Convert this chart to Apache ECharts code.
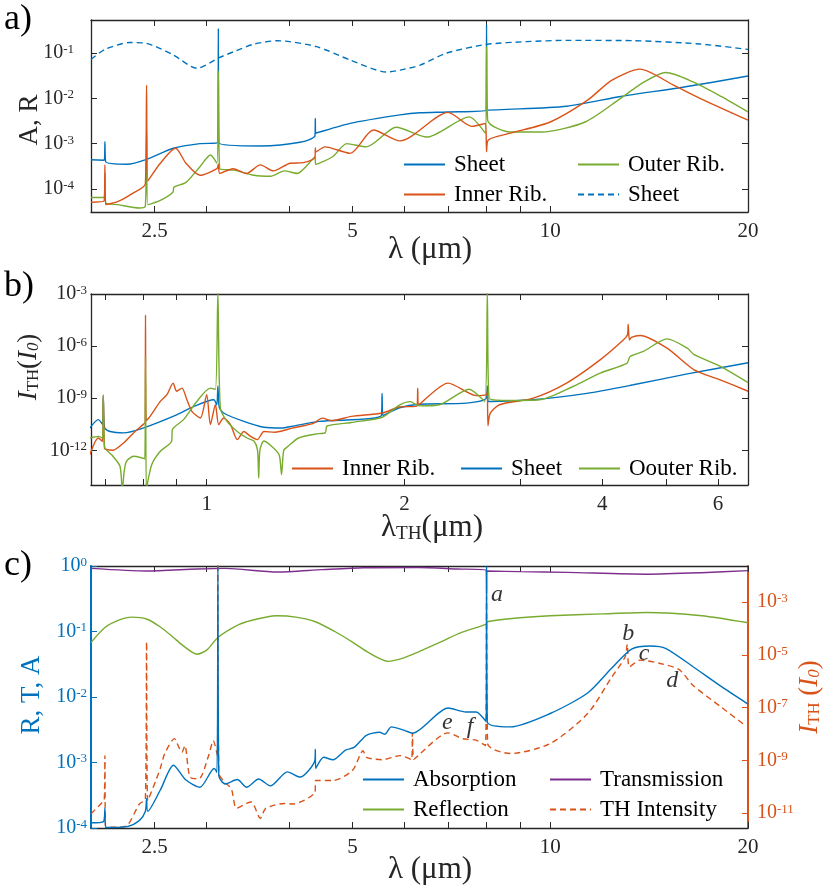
<!DOCTYPE html>
<html lang="en">
<head>
    <meta charset="UTF-8">
    <title>Sheet / Rib spectra and TH intensity</title>
    <script src="https://cdn.jsdelivr.net/npm/echarts@6.0.0/dist/echarts.min.js"></script>
    <style>
        html, body { margin: 0; padding: 0; background: #fff; }
        #main { width: 831px; height: 895px; }
    </style>
</head>
<body>
<div id="main"></div>
<script>
// ---------- panel a: absorption / reflection vs wavelength (um) ----------
var lamSheetA = [2.0, 2.095, 2.1, 2.105, 2.27, 2.43, 2.67, 2.93, 3.12, 3.125, 3.13, 3.62, 4.16, 4.385, 4.39, 4.395, 4.96, 5.91, 6.34, 6.97, 7.99, 8.0, 8.01, 10.6, 12.8, 15.9, 20];
var sheetA    = [4.4e-4, 4.3e-4, 1.1e-3, 4.0e-4, 3.5e-4, 4.5e-4, 7.9e-4, 1.0e-3, 1.05e-3, 0.35, 1.05e-3, 8.9e-4, 1.07e-3, 1.5e-3, 3.6e-3, 1.7e-3, 2.8e-3, 4.3e-3, 4.8e-3, 5.0e-3, 5.5e-3, 0.42, 5.5e-3, 6.7e-3, 0.011, 0.0175, 0.031];

var lamInnerA = [2.0, 2.095, 2.1, 2.105, 2.2, 2.31, 2.42, 2.43, 2.44, 2.55, 2.69, 2.79, 2.93, 3.11, 3.125, 3.14, 3.29, 3.45, 3.62, 3.79, 4.02, 4.21, 4.385, 4.39, 4.395, 4.54, 4.96, 5.38, 5.91, 6.99, 7.6, 7.97, 8.0, 8.05, 8.7, 10, 11.4, 12.4, 13.7, 15.4, 16.9, 20];
var innerA    = [5.1e-5, 5.5e-5, 3.4e-4, 4.5e-5, 5.3e-5, 7.9e-5, 1.3e-4, 0.0196, 1.5e-4, 3.7e-4, 7.9e-4, 3.7e-4, 2.0e-4, 2.8e-4, 3.5e-4, 2.2e-4, 2.8e-4, 2.2e-4, 3.4e-4, 2.5e-4, 3.7e-4, 3.8e-4, 5.0e-4, 8.0e-4, 6.5e-4, 8.5e-4, 6.1e-4, 2.0e-3, 1.15e-3, 4.9e-3, 2.4e-3, 2.8e-3, 6.6e-4, 1.2e-3, 1.7e-3, 3.0e-3, 9.1e-3, 0.025, 0.044, 0.0196, 0.01, 3.3e-3];

var lamOuterA = [2.0, 2.095, 2.1, 2.105, 2.2, 2.37, 2.42, 2.43, 2.44, 2.55, 2.665, 2.675, 2.79, 2.93, 3.04, 3.11, 3.125, 3.14, 3.3, 3.54, 3.75, 3.94, 4.12, 4.385, 4.395, 4.67, 4.9, 5.25, 5.83, 6.49, 7.53, 7.97, 8.0, 8.03, 8.7, 9.7, 11.3, 12.8, 13.9, 15.0, 16.5, 18.2, 20];
var outerA    = [6.5e-5, 6.5e-5, 2.2e-4, 5.0e-5, 4.5e-5, 3.8e-5, 4.2e-5, 2.0e-3, 4.5e-5, 5.6e-5, 8.5e-5, 1.1e-4, 1.4e-4, 3.1e-4, 5.6e-4, 3.7e-4, 0.04, 2.8e-4, 2.6e-4, 2.0e-4, 1.9e-4, 2.5e-4, 2.2e-4, 5.0e-4, 3.5e-4, 5.2e-4, 1.0e-3, 8.5e-4, 2.3e-3, 1.4e-3, 3.9e-3, 1.7e-3, 0.14, 3.3e-3, 1.8e-3, 1.8e-3, 3.0e-3, 0.01, 0.023, 0.037, 0.023, 0.011, 5.0e-3];

var lamSheetR = [2.0, 2.1, 2.29, 2.43, 2.67, 2.9, 3.14, 3.3, 3.53, 3.84, 4.41, 4.96, 5.64, 5.91, 6.34, 6.96, 8.0, 9.2, 10.6, 13.4, 16.9, 20];
var sheetR    = [0.072, 0.12, 0.17, 0.163, 0.09, 0.046, 0.08, 0.107, 0.155, 0.187, 0.138, 0.07, 0.038, 0.042, 0.054, 0.10, 0.155, 0.178, 0.19, 0.187, 0.158, 0.12];

// ---------- panel b: TH intensity vs TH wavelength (um) ----------
var lamSheetB = [0.664, 0.684, 0.694, 0.696, 0.699, 0.713, 0.747, 0.80, 0.90, 0.955, 1.025, 1.036, 1.040, 1.045, 1.061, 1.139, 1.222, 1.30, 1.35, 1.483, 1.845, 1.849, 1.855, 1.965, 2.108, 2.485, 2.665, 2.674, 2.683, 3.14, 3.79, 4.46, 5.39, 6.67];
var sheetB    = [1.9e-11, 5.8e-11, 3.2e-11, 1.3e-9, 2.0e-11, 1.2e-11, 1.0e-11, 1.9e-11, 1.1e-10, 3.3e-10, 8.1e-10, 4.2e-10, 5.0e-9, 3.0e-10, 1.4e-10, 4.6e-11, 2.1e-11, 1.9e-11, 2.4e-11, 4.6e-11, 1.0e-10, 1.9e-9, 1.0e-10, 2.8e-10, 4.5e-10, 5.2e-10, 1.0e-9, 5.0e-9, 6.5e-10, 8.1e-10, 1.9e-9, 5.9e-9, 2.5e-8, 1.1e-7];

var lamInnerB = [0.664, 0.684, 0.694, 0.696, 0.699, 0.704, 0.72, 0.747, 0.774, 0.80, 0.806, 0.807, 0.809, 0.82, 0.85, 0.87, 0.889, 0.90, 0.917, 0.933, 0.95, 0.978, 1.0, 1.013, 1.031, 1.043, 1.061, 1.087, 1.113, 1.139, 1.166, 1.194, 1.222, 1.27, 1.35, 1.45, 1.50, 1.55, 1.66, 1.85, 1.965, 2.09, 2.095, 2.10, 2.33, 2.574, 2.665, 2.674, 2.68, 2.70, 2.79, 3.14, 3.53, 3.97, 4.31, 4.37, 4.38, 4.40, 4.43, 4.57, 5.02, 5.52, 6.06, 6.67];
var innerB    = [5.6e-13, 5.1e-12, 3.2e-12, 1.3e-9, 1.3e-12, 1.1e-12, 1.0e-12, 2.6e-12, 1.0e-11, 3.0e-11, 4.0e-11, 6.3e-5, 5.0e-11, 8.9e-11, 6.5e-10, 1.6e-9, 7.4e-9, 2.5e-9, 3.8e-9, 8.1e-10, 1.7e-10, 7.2e-11, 1.6e-9, 3.0e-11, 4.2e-10, 3.0e-11, 7.2e-11, 3.0e-11, 4.1e-12, 1.2e-11, 6.3e-12, 4.1e-12, 1.2e-11, 1.1e-11, 1.9e-11, 3.4e-11, 7.1e-11, 5.0e-11, 8.9e-11, 1.4e-10, 3.1e-10, 3.5e-10, 3.8e-9, 4.0e-10, 7.4e-9, 1.4e-9, 1.6e-9, 2.5e-9, 2.6e-11, 1.3e-10, 4.2e-10, 1.0e-9, 7.4e-9, 1.6e-7, 2.3e-6, 4.5e-6, 1.8e-5, 2.2e-6, 3.2e-6, 4.1e-6, 7.6e-7, 4.3e-8, 1.1e-8, 2.5e-9];

var lamOuterB = [0.664, 0.684, 0.694, 0.696, 0.699, 0.72, 0.738, 0.744, 0.749, 0.755, 0.774, 0.80, 0.805, 0.807, 0.809, 0.811, 0.825, 0.85, 0.884, 0.887, 0.922, 0.966, 1.013, 1.031, 1.040, 1.049, 1.074, 1.113, 1.152, 1.18, 1.195, 1.20, 1.205, 1.222, 1.265, 1.29, 1.30, 1.31, 1.33, 1.38, 1.48, 1.515, 1.525, 1.66, 1.85, 1.965, 2.04, 2.108, 2.26, 2.51, 2.65, 2.674, 2.69, 2.86, 3.21, 3.61, 3.97, 4.36, 4.41, 4.62, 5.02, 5.39, 5.52, 6.06, 6.67];
var outerB    = [5.1e-12, 6.3e-12, 5.0e-12, 1.6e-9, 1.6e-12, 4.5e-13, 1.2e-13, 5e-15, 6.3e-14, 2.3e-13, 4.5e-13, 3.5e-13, 3.2e-13, 2.5e-7, 5e-15, 5e-15, 1.5e-13, 8.7e-13, 3.2e-12, 1.6e-11, 5.8e-11, 6.5e-10, 3.8e-9, 3.2e-9, 1.2e-3, 2.7e-10, 4.6e-11, 1.2e-11, 5.1e-12, 3.4e-12, 1.0e-12, 2.5e-14, 1.0e-12, 3.4e-12, 1.3e-12, 5.0e-13, 4.0e-14, 1.0e-12, 1.7e-12, 5.1e-12, 9.1e-12, 1.0e-11, 2.5e-11, 4.0e-11, 8.0e-11, 4.0e-10, 6.3e-10, 3.6e-10, 4.2e-10, 3.3e-9, 6.5e-10, 1.2e-3, 1.0e-9, 7.4e-10, 8.1e-10, 4.7e-9, 2.8e-8, 1.0e-7, 2.5e-7, 4.9e-7, 2.6e-6, 7.6e-7, 3.2e-7, 6.6e-8, 7.9e-9];

// ---------- panel c: R, T, A (left) and TH intensity (right) ----------
var lamTrans = [2.0, 2.43, 2.9, 3.2, 3.84, 4.5, 5.2, 6.3, 7.2, 7.99, 8.0, 8.01, 9.0, 10.6, 14, 17, 20];
var trans    = [0.92, 0.84, 0.90, 0.92, 0.81, 0.88, 0.94, 0.95, 0.90, 0.86, 0.38, 0.84, 0.82, 0.80, 0.75, 0.79, 0.85];

var lamRefl = [2.0, 2.1, 2.2, 2.31, 2.43, 2.55, 2.67, 2.75, 2.9, 3.0, 3.12, 3.3, 3.45, 3.84, 4.1, 4.39, 4.7, 5.0, 5.3, 5.67, 6.0, 6.3, 6.87, 7.3, 7.99, 8.02, 9, 10, 12, 14, 17, 20];
var refl    = [0.068, 0.115, 0.148, 0.166, 0.155, 0.117, 0.081, 0.063, 0.045, 0.052, 0.081, 0.117, 0.141, 0.174, 0.166, 0.141, 0.1, 0.069, 0.047, 0.035, 0.04, 0.049, 0.072, 0.095, 0.13, 0.141, 0.162, 0.174, 0.186, 0.195, 0.174, 0.136];

var lamAbsorp = [2.0, 2.09, 2.1, 2.105, 2.15, 2.27, 2.37, 2.42, 2.43, 2.44, 2.55, 2.67, 2.79, 2.93, 3.08, 3.11, 3.12, 3.13, 3.2, 3.34, 3.45, 3.6, 3.75, 3.98, 4.16, 4.385, 4.39, 4.395, 4.52, 4.67, 4.88, 5.03, 5.25, 5.5, 5.6, 5.73, 6.0, 6.17, 6.99, 7.44, 7.71, 7.99, 8.0, 8.02, 8.7, 10, 11.4, 12.4, 13.3, 14.2, 15, 16.5, 18.2, 20];
var absorp    = [1.2e-4, 1.26e-4, 2.0e-4, 1.02e-4, 1.02e-4, 1.05e-4, 1.3e-4, 1.8e-4, 2.8e-4, 1.8e-4, 3.8e-4, 9.1e-4, 5.4e-4, 4.2e-4, 8.1e-4, 7.1e-4, 1.0, 6.3e-4, 4.7e-4, 5.5e-4, 4.2e-4, 5.6e-4, 4.4e-4, 7.2e-4, 6.0e-4, 1.1e-3, 1.6e-3, 8.1e-4, 1.2e-3, 1.1e-3, 1.55e-3, 1.7e-3, 2.6e-3, 2.9e-3, 2.7e-3, 3.5e-3, 3.1e-3, 2.8e-3, 6.8e-3, 5.9e-3, 5.9e-3, 4.2e-3, 1.0, 4.2e-3, 3.5e-3, 5.6e-3, 0.0115, 0.0275, 0.054, 0.060, 0.055, 0.029, 0.0145, 7.8e-3];

var lamTH = [2.0, 2.08, 2.095, 2.1, 2.105, 2.2, 2.27, 2.37, 2.42, 2.43, 2.44, 2.51, 2.55, 2.59, 2.68, 2.72, 2.75, 2.78, 2.83, 2.92, 3.02, 3.07, 3.115, 3.12, 3.13, 3.2, 3.27, 3.33, 3.45, 3.51, 3.62, 3.69, 3.94, 4.06, 4.385, 4.395, 4.67, 5.0, 5.19, 5.25, 5.55, 5.91, 6.15, 6.17, 6.2, 6.99, 7.35, 7.71, 7.97, 8.0, 8.03, 8.7, 10, 11.4, 12.4, 13.0, 13.1, 13.2, 13.7, 14.7, 15.7, 16.5, 18.2, 19.8];
var thInt = [9.3e-12, 2.5e-11, 3.0e-11, 1.5e-9, 2.9e-12, 2.9e-12, 3.3e-12, 2.2e-11, 3.4e-11, 3.1e-5, 2.9e-11, 1.7e-10, 5.0e-10, 1.8e-9, 6.6e-9, 3.2e-9, 2.0e-9, 3.6e-9, 2.3e-10, 2.0e-10, 1.5e-9, 5.6e-9, 1.5e-9, 0.03, 3.2e-10, 1.4e-10, 8.5e-11, 1.5e-11, 2.3e-11, 2.6e-11, 6.3e-12, 1.5e-11, 2.3e-11, 2.2e-11, 6.2e-11, 1.7e-10, 1.7e-10, 4.1e-10, 2.3e-9, 1.3e-9, 1.05e-9, 1.5e-9, 1.05e-9, 1.1e-8, 1.1e-9, 1.1e-8, 6.6e-9, 5.8e-9, 3.6e-9, 1.6e-3, 4.3e-9, 1.8e-9, 4.3e-9, 5.9e-8, 1.4e-6, 8.3e-6, 2.5e-5, 3.5e-6, 6.3e-6, 4.7e-6, 2.8e-6, 6.9e-7, 1.05e-7, 2.1e-8];

// letters a-f placed next to the TH curve
var noteLam  = [8.3, 13.14, 13.9, 15.34, 6.97, 7.55];
var noteTH   = [1.9e-3, 6.6e-5, 1.15e-5, 1.07e-6, 2.75e-8, 1.8e-8];
var noteText = ['a', 'b', 'c', 'd', 'e', 'f'];

// ---------- ticks ----------
var ticksLam    = [2.5, 3, 4, 5, 6, 7, 8, 9, 10, 20];
var labelsLam   = [2.5, 5, 10, 20];
var ticksLamTH  = [0.7, 0.8, 0.9, 1, 2, 3, 4, 5, 6];
var labelsLamTH = [1, 2, 4, 6];
var ticksA      = [1e-4, 1e-3, 1e-2, 1e-1];
var ticksB      = [1e-12, 1e-9, 1e-6, 1e-3];
var ticksCLeft  = [1e-4, 1e-3, 1e-2, 1e-1, 1];
var ticksCRight = [1e-11, 1e-9, 1e-7, 1e-5, 1e-3];

var FONT = 'Liberation Serif';
var INK = '#262626';
var BLUE = '#0072BD', ORANGE = '#D95319', GREEN = '#77AC30', PURPLE = '#7E2F8E';

function pts(xs, ys) {
    return xs.map(function (x, i) { return [x, ys[i]]; });
}

function pow10Label(v) {
    return '10{s|' + Math.round(Math.log10(v)) + '}';
}

function xAxisLog(grid, min, max, ticks, labels, pos) {
    return {
        type: 'log', gridIndex: grid, position: pos, min: min, max: max,
        axisLine: { show: true, onZero: false, lineStyle: { color: INK, width: 1.3 } },
        axisTick: { show: true, inside: true, length: 6, lineStyle: { color: INK, width: 1 }, customValues: ticks },
        axisLabel: labels ? {
            show: true, customValues: labels, margin: 9,
            fontFamily: FONT, fontSize: 21, color: INK,
            formatter: function (v) { return String(Math.round(v * 100) / 100); }
        } : { show: false },
        splitLine: { show: false }
    };
}

function yAxisLog(grid, min, max, ticks, showLabels, pos, color, margin) {
    var colored = !!color && color !== INK;
    color = color || INK;
    return {
        type: 'log', gridIndex: grid, position: pos, min: min, max: max,
        axisLine: { show: true, onZero: false, lineStyle: { color: color, width: colored ? 2 : 1.3 } },
        axisTick: { show: true, inside: true, length: 6, lineStyle: { color: color, width: 1 }, customValues: ticks },
        axisLabel: showLabels ? {
            show: true, customValues: ticks, margin: margin,
            fontFamily: FONT, fontSize: 20, color: color,
            formatter: pow10Label,
            rich: { s: { fontFamily: FONT, fontSize: 13, color: color, verticalAlign: 'top', lineHeight: 12 } }
        } : { show: false },
        splitLine: { show: false }
    };
}

function lineSeries(name, xi, yi, xs, ys, color, dashed) {
    return {
        name: name, type: 'line', xAxisIndex: xi, yAxisIndex: yi,
        data: pts(xs, ys), symbol: 'none', smooth: 0.25, clip: true,
        lineStyle: { color: color, width: 1.4, type: dashed ? [6, 4] : 'solid' },
        itemStyle: { color: color }, silent: true
    };
}

// legend rows are placed one item at a time so the columns line up
function legendItem(name, left, top) {
    return {
        data: [name], left: left, top: top, padding: 0, selectedMode: false,
        itemWidth: 41, itemHeight: 2,
        itemStyle: { opacity: 0 },
        textStyle: { fontFamily: FONT, fontSize: 23, color: '#000', padding: [0, 0, 0, 4] }
    };
}

function titleText(text, x, y, size, color, rotate, rich) {
    return {
        type: 'text', x: x, y: y, rotation: rotate ? Math.PI / 2 : 0, silent: true,
        style: {
            text: text, fontFamily: FONT, fontSize: size, fill: color || INK,
            align: 'center', verticalAlign: 'middle', rich: rich || {}
        }
    };
}

var subRich = function (size, color) {
    return {
        i: { fontFamily: FONT, fontSize: size, fontStyle: 'italic', fill: color, color: color },
        sb: { fontFamily: FONT, fontSize: size * 0.62, fill: color, color: color, verticalAlign: 'bottom', lineHeight: size * 0.5 },
        sbi: { fontFamily: FONT, fontSize: size * 0.62, fontStyle: 'italic', fill: color, color: color, verticalAlign: 'bottom', lineHeight: size * 0.5 }
    };
};

var chart = echarts.init(document.getElementById('main'));

chart.setOption({
    animation: false,
    backgroundColor: '#fff',
    grid: [
        { left: 91, top: 20, width: 657, height: 192 },
        { left: 91, top: 294, width: 657, height: 191 },
        { left: 91, top: 566, width: 657, height: 262 }
    ],
    xAxis: [
        xAxisLog(0, 2, 20, ticksLam, labelsLam, 'bottom'),
        xAxisLog(0, 2, 20, ticksLam, null, 'top'),
        xAxisLog(1, 2 / 3, 20 / 3, ticksLamTH, labelsLamTH, 'bottom'),
        xAxisLog(1, 2 / 3, 20 / 3, ticksLamTH, null, 'top'),
        xAxisLog(2, 2, 20, ticksLam, labelsLam, 'bottom'),
        xAxisLog(2, 2, 20, ticksLam, null, 'top')
    ],
    yAxis: [
        yAxisLog(0, 3.1e-5, 0.535, ticksA, true, 'left', INK, 17),
        yAxisLog(0, 3.1e-5, 0.535, ticksA, false, 'right'),
        yAxisLog(1, 1e-14, 1e-3, ticksB, true, 'left', INK, 4),
        yAxisLog(1, 1e-14, 1e-3, ticksB, false, 'right'),
        yAxisLog(2, 1e-4, 1, ticksCLeft, true, 'left', BLUE, 4),
        yAxisLog(2, 2.7e-12, 0.0234, ticksCRight, true, 'right', ORANGE, 9)
    ],
    legend: [
        legendItem('Sheet', 403, 153),
        legendItem('Outer Rib.', 577, 153),
        legendItem('Inner Rib.', 403, 183),
        legendItem('Sheet ', 577, 183),
        legendItem('Inner Rib. ', 291, 457),
        legendItem('Sheet  ', 460, 457),
        legendItem('Oouter Rib.', 578, 457),
        legendItem('Absorption', 362, 768),
        legendItem('Transmission', 549, 768),
        legendItem('Reflection', 362, 798),
        legendItem('TH Intensity', 549, 798)
    ],
    series: [
        lineSeries('Sheet ', 0, 0, lamSheetR, sheetR, BLUE, true),
        lineSeries('Sheet', 0, 0, lamSheetA, sheetA, BLUE),
        lineSeries('Outer Rib.', 0, 0, lamOuterA, outerA, GREEN),
        lineSeries('Inner Rib.', 0, 0, lamInnerA, innerA, ORANGE),

        lineSeries('Sheet  ', 2, 2, lamSheetB, sheetB, BLUE),
        lineSeries('Inner Rib. ', 2, 2, lamInnerB, innerB, ORANGE),
        lineSeries('Oouter Rib.', 2, 2, lamOuterB, outerB, GREEN),

        lineSeries('Transmission', 4, 4, lamTrans, trans, PURPLE),
        lineSeries('Reflection', 4, 4, lamRefl, refl, GREEN),
        lineSeries('TH Intensity', 4, 5, lamTH, thInt, ORANGE, true),
        lineSeries('Absorption', 4, 4, lamAbsorp, absorp, BLUE),
        {
            type: 'scatter', xAxisIndex: 4, yAxisIndex: 5, silent: true,
            data: noteLam.map(function (x, i) { return [x, noteTH[i], noteText[i]]; }),
            symbol: 'circle', symbolSize: 1, itemStyle: { color: 'transparent' },
            label: {
                show: true, position: 'inside', formatter: function (p) { return p.data[2]; },
                fontFamily: FONT, fontStyle: 'italic', fontSize: 24, color: '#000'
            }
        }
    ],
    graphic: [
        { type: 'text', x: 4, y: 20, silent: true, style: { text: 'a)', fontFamily: FONT, fontSize: 36, fill: '#000', verticalAlign: 'middle' } },
        { type: 'text', x: 4, y: 287, silent: true, style: { text: 'b)', fontFamily: FONT, fontSize: 36, fill: '#000', verticalAlign: 'middle' } },
        { type: 'text', x: 4, y: 566, silent: true, style: { text: 'c)', fontFamily: FONT, fontSize: 36, fill: '#000', verticalAlign: 'middle' } },

        titleText('A, R', 30, 120, 27, INK, true),
        titleText('\u03bb (\u03bcm)', 430, 250, 31, INK, false),

        titleText('{i|I}{sb|TH}({i|I}{sbi|0})', 29, 367, 27, INK, true, subRich(27, INK)),
        titleText('\u03bb{sb|TH}(\u03bcm)', 432, 528, 31, INK, false, subRich(31, INK)),

        titleText('R, T, A', 32, 695, 27, BLUE, true),
        titleText('{i|I}{sb|TH} ({i|I}{sbi|0})', 810, 697, 27, ORANGE, true, subRich(27, ORANGE)),
        titleText('\u03bb (\u03bcm)', 430, 870, 31, INK, false)
    ]
});
</script>
</body>
</html>
